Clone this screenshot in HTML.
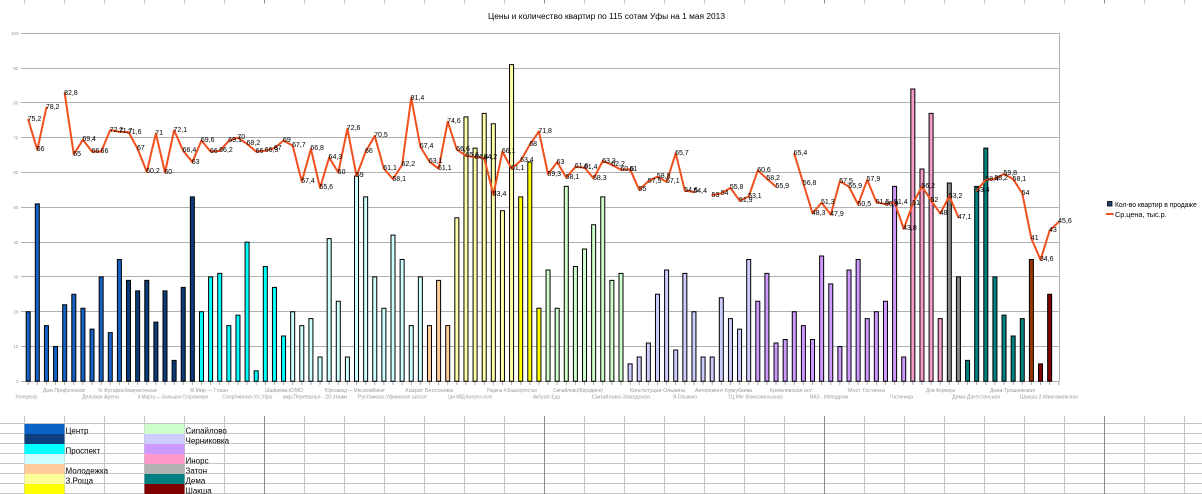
<!DOCTYPE html>
<html><head><meta charset="utf-8">
<style>
html,body{margin:0;padding:0;background:#fff}
body{width:1202px;height:494px;position:relative;overflow:hidden;font-family:"Liberation Sans","Noto Sans CJK SC",sans-serif}
svg{position:absolute;left:0;top:0}
.l{position:absolute;font-family:"Liberation Sans",sans-serif;font-size:7px;line-height:7px;color:#000;white-space:nowrap;left:calc(27.6px + var(--n) * 9.12px);top:calc(377.8px - var(--v) * 3.48px)}
</style></head><body>
<svg width="1202" height="494" viewBox="0 0 1202 494" xmlns="http://www.w3.org/2000/svg" font-family="Liberation Sans, sans-serif">
<defs>
<pattern id="tk" x="27.7" y="0" width="9.12" height="10" patternUnits="userSpaceOnUse"><rect x="0" y="0" width="1" height="10" fill="#a8a8a8"/></pattern>
</defs>
<!-- sheet top ticks -->
<path d="M24.5 0V3.5M64.5 0V3.5M104.5 0V3.5M144.5 0V3.5M184.5 0V3.5M224.5 0V3.5M304.5 0V3.5M344.5 0V3.5M384.5 0V3.5M424.5 0V3.5M464.5 0V3.5M504.5 0V3.5M584.5 0V3.5M624.5 0V3.5M664.5 0V3.5M704.5 0V3.5M744.5 0V3.5M784.5 0V3.5M864.5 0V3.5M904.5 0V3.5M944.5 0V3.5M984.5 0V3.5M1024.5 0V3.5M1064.5 0V3.5M1144.5 0V3.5M1184.5 0V3.5" stroke="#c4c4c4" stroke-width="1"/>
<path d="M264.5 0V3.5M544.5 0V3.5M824.5 0V3.5M1104.5 0V3.5" stroke="#8c8c8c" stroke-width="1"/>
<!-- sheet bottom grid -->
<path d="M0 423.5H1202M0 433.5H1202M0 443.5H1202M0 453.5H1202M0 463.5H1202M0 473.5H1202M0 483.5H1202M0 493.5H1202" stroke="#c4c4c4" stroke-width="1"/>
<path d="M24.5 416V494M64.5 416V494M104.5 416V494M144.5 416V494M184.5 416V494M224.5 416V494M304.5 416V494M344.5 416V494M384.5 416V494M424.5 416V494M464.5 416V494M504.5 416V494M584.5 416V494M624.5 416V494M664.5 416V494M704.5 416V494M744.5 416V494M784.5 416V494M864.5 416V494M904.5 416V494M944.5 416V494M984.5 416V494M1024.5 416V494M1064.5 416V494M1144.5 416V494M1184.5 416V494" stroke="#c4c4c4" stroke-width="1"/>
<path d="M264.5 416V494M544.5 416V494M824.5 416V494M1104.5 416V494" stroke="#8c8c8c" stroke-width="1"/>
<!-- colour legend cells -->
<rect x="24.5" y="424" width="40" height="10" fill="#0a64c8"/>
<rect x="24.5" y="434" width="40" height="10" fill="#0b3f7e"/>
<rect x="24.5" y="444" width="40" height="10" fill="#00ffff"/>
<rect x="24.5" y="454" width="40" height="10" fill="#ccffff"/>
<rect x="24.5" y="464" width="40" height="10" fill="#ffcc99"/>
<rect x="24.5" y="474" width="40" height="10" fill="#ffff99"/>
<rect x="24.5" y="484" width="40" height="10" fill="#ffff00"/>
<rect x="144.5" y="424" width="40" height="10" fill="#ccffcc"/>
<rect x="144.5" y="434" width="40" height="10" fill="#ccccff"/>
<rect x="144.5" y="444" width="40" height="10" fill="#cc99ff"/>
<rect x="144.5" y="454" width="40" height="10" fill="#ff99cc"/>
<rect x="144.5" y="464" width="40" height="10" fill="#b2b2b2"/>
<rect x="144.5" y="474" width="40" height="10" fill="#008080"/>
<rect x="144.5" y="484" width="40" height="10" fill="#800000"/>
<g font-size="8" fill="#000">
<text x="65.5" y="433.3">Центр</text>
<text x="65.5" y="453.3">Проспект</text>
<text x="65.5" y="473.3">Молодежка</text>
<text x="65.5" y="483.3">З.Роща</text>
<text x="185.5" y="433.3">Сипайлово</text>
<text x="185.5" y="443.3">Черниковка</text>
<text x="185.5" y="463.3">Инорс</text>
<text x="185.5" y="473.3">Затон</text>
<text x="185.5" y="483.3">Дема</text>
<text x="185.5" y="493.3">Шакша</text>
</g>
<!-- title -->
<text x="488" y="19" font-size="8" fill="#000" textLength="237" lengthAdjust="spacingAndGlyphs">Цены и количество квартир по 115 сотам Уфы на 1 мая 2013</text>
<!-- gridlines -->
<path d="M21 33.5H1059.5M21 68.5H1059.5M21 102.5H1059.5M21 137.5H1059.5M21 172.5H1059.5M21 207.5H1059.5M21 242.5H1059.5M21 276.5H1059.5M21 311.5H1059.5M21 346.5H1059.5M21 381.5H1059.5M1059.5 33.5V381.5" stroke="#b0b0b0" stroke-width="1" fill="none"/>
<rect x="27" y="382" width="1033" height="3" fill="url(#tk)"/>
<g font-size="4.6" fill="#999" text-anchor="end">
<text x="18.5" y="35">100</text>
<text x="18.5" y="69.8">90</text>
<text x="18.5" y="104.6">80</text>
<text x="18.5" y="139.4">70</text>
<text x="18.5" y="174.2">60</text>
<text x="18.5" y="209">50</text>
<text x="18.5" y="243.8">40</text>
<text x="18.5" y="278.6">30</text>
<text x="18.5" y="313.4">20</text>
<text x="18.5" y="348.2">10</text>
<text x="18.5" y="383">0</text>
</g>
<!-- x labels -->
<g font-size="5.5" fill="#9a9a9a" lengthAdjust="spacingAndGlyphs">
<text x="43" y="392" textLength="42" lengthAdjust="spacingAndGlyphs">Дом Профсоюзов</text>
<text x="98" y="392" textLength="59" lengthAdjust="spacingAndGlyphs">Ул. Мустафина-Коммунистическая</text>
<text x="190" y="392" textLength="38" lengthAdjust="spacingAndGlyphs">Ф.Мир — Глазн</text>
<text x="265" y="392" textLength="38" lengthAdjust="spacingAndGlyphs">Шафиева-КУМО</text>
<text x="325" y="392" textLength="60" lengthAdjust="spacingAndGlyphs">Юрозавод — Мясокомбинат</text>
<text x="405" y="392" textLength="48" lengthAdjust="spacingAndGlyphs">Хазрат Бессонова</text>
<text x="487" y="392" textLength="50" lengthAdjust="spacingAndGlyphs">Родина 4-Башкортостан</text>
<text x="553" y="392" textLength="50" lengthAdjust="spacingAndGlyphs">Сипайлово(Бородино)</text>
<text x="630" y="392" textLength="55" lengthAdjust="spacingAndGlyphs">Конституции-Ольвина</text>
<text x="695" y="392" textLength="57" lengthAdjust="spacingAndGlyphs">Авторемонт-Куркубаева</text>
<text x="770" y="392" textLength="43" lengthAdjust="spacingAndGlyphs">Кремлевская ост.</text>
<text x="848" y="392" textLength="37" lengthAdjust="spacingAndGlyphs">Мост Гостинка</text>
<text x="926" y="392" textLength="29" lengthAdjust="spacingAndGlyphs">Дом Фермера</text>
<text x="990" y="392" textLength="45" lengthAdjust="spacingAndGlyphs">Дема-Трошниковая</text>
<text x="15" y="398.5" textLength="22" lengthAdjust="spacingAndGlyphs">Телецентр</text>
<text x="82" y="398.5" textLength="37" lengthAdjust="spacingAndGlyphs">Деловая Арена</text>
<text x="138" y="398.5" textLength="70" lengthAdjust="spacingAndGlyphs">8 Марта — Большая Сторожевая</text>
<text x="222" y="398.5" textLength="50" lengthAdjust="spacingAndGlyphs">Спортивная-Ул.Уфа</text>
<text x="283" y="398.5" textLength="64" lengthAdjust="spacingAndGlyphs">мкр.Перевалье - 20 этажи</text>
<text x="358" y="398.5" textLength="69" lengthAdjust="spacingAndGlyphs">Рустамова-Уфимское шоссе</text>
<text x="448" y="398.5" textLength="44" lengthAdjust="spacingAndGlyphs">Цен.МВД-Конгресс-холл</text>
<text x="533" y="398.5" textLength="27" lengthAdjust="spacingAndGlyphs">Акбузат-Еда</text>
<text x="592" y="398.5" textLength="58" lengthAdjust="spacingAndGlyphs">Сипайлово-Заводская</text>
<text x="673" y="398.5" textLength="24" lengthAdjust="spacingAndGlyphs">Я-Ольвино</text>
<text x="728" y="398.5" textLength="55" lengthAdjust="spacingAndGlyphs">ТЦ Мег (Комсомольская)</text>
<text x="810" y="398.5" textLength="38" lengthAdjust="spacingAndGlyphs">ВАЗ - Ипподром</text>
<text x="890" y="398.5" textLength="23" lengthAdjust="spacingAndGlyphs">Гостиница</text>
<text x="952" y="398.5" textLength="48" lengthAdjust="spacingAndGlyphs">Дема-Дагестанская</text>
<text x="1020" y="398.5" textLength="58" lengthAdjust="spacingAndGlyphs">Шакша 2-Мингажевская</text>
</g>
<!-- bars & line -->
<g transform="translate(28.2,381.3) scale(9.12,-3.48)">
<g stroke="#000" stroke-width="1">
<g fill="#1462c4">
<rect vector-effect="non-scaling-stroke" x="-0.22" y="0" width="0.44" height="20"/>
<rect vector-effect="non-scaling-stroke" x="0.78" y="0" width="0.44" height="51"/>
<rect vector-effect="non-scaling-stroke" x="1.78" y="0" width="0.44" height="16"/>
<rect vector-effect="non-scaling-stroke" x="2.78" y="0" width="0.44" height="10"/>
<rect vector-effect="non-scaling-stroke" x="3.78" y="0" width="0.44" height="22"/>
<rect vector-effect="non-scaling-stroke" x="4.78" y="0" width="0.44" height="25"/>
<rect vector-effect="non-scaling-stroke" x="5.78" y="0" width="0.44" height="21"/>
<rect vector-effect="non-scaling-stroke" x="6.78" y="0" width="0.44" height="15"/>
<rect vector-effect="non-scaling-stroke" x="7.78" y="0" width="0.44" height="30"/>
<rect vector-effect="non-scaling-stroke" x="8.78" y="0" width="0.44" height="14"/>
<rect vector-effect="non-scaling-stroke" x="9.78" y="0" width="0.44" height="35"/>
</g>
<g fill="#0c3b78">
<rect vector-effect="non-scaling-stroke" x="10.78" y="0" width="0.44" height="29"/>
<rect vector-effect="non-scaling-stroke" x="11.78" y="0" width="0.44" height="26"/>
<rect vector-effect="non-scaling-stroke" x="12.78" y="0" width="0.44" height="29"/>
<rect vector-effect="non-scaling-stroke" x="13.78" y="0" width="0.44" height="17"/>
<rect vector-effect="non-scaling-stroke" x="14.78" y="0" width="0.44" height="26"/>
<rect vector-effect="non-scaling-stroke" x="15.78" y="0" width="0.44" height="6"/>
<rect vector-effect="non-scaling-stroke" x="16.78" y="0" width="0.44" height="27"/>
<rect vector-effect="non-scaling-stroke" x="17.78" y="0" width="0.44" height="53"/>
</g>
<g fill="#00ffff">
<rect vector-effect="non-scaling-stroke" x="18.78" y="0" width="0.44" height="20"/>
<rect vector-effect="non-scaling-stroke" x="19.78" y="0" width="0.44" height="30"/>
<rect vector-effect="non-scaling-stroke" x="20.78" y="0" width="0.44" height="31"/>
<rect vector-effect="non-scaling-stroke" x="21.78" y="0" width="0.44" height="16"/>
<rect vector-effect="non-scaling-stroke" x="22.78" y="0" width="0.44" height="19"/>
<rect vector-effect="non-scaling-stroke" x="23.78" y="0" width="0.44" height="40"/>
<rect vector-effect="non-scaling-stroke" x="24.78" y="0" width="0.44" height="3"/>
<rect vector-effect="non-scaling-stroke" x="25.78" y="0" width="0.44" height="33"/>
<rect vector-effect="non-scaling-stroke" x="26.78" y="0" width="0.44" height="27"/>
<rect vector-effect="non-scaling-stroke" x="27.78" y="0" width="0.44" height="13"/>
</g>
<g fill="#ccffff">
<rect vector-effect="non-scaling-stroke" x="28.78" y="0" width="0.44" height="20"/>
<rect vector-effect="non-scaling-stroke" x="29.78" y="0" width="0.44" height="16"/>
<rect vector-effect="non-scaling-stroke" x="30.78" y="0" width="0.44" height="18"/>
<rect vector-effect="non-scaling-stroke" x="31.78" y="0" width="0.44" height="7"/>
<rect vector-effect="non-scaling-stroke" x="32.78" y="0" width="0.44" height="41"/>
<rect vector-effect="non-scaling-stroke" x="33.78" y="0" width="0.44" height="23"/>
<rect vector-effect="non-scaling-stroke" x="34.78" y="0" width="0.44" height="7"/>
<rect vector-effect="non-scaling-stroke" x="35.78" y="0" width="0.44" height="59"/>
<rect vector-effect="non-scaling-stroke" x="36.78" y="0" width="0.44" height="53"/>
<rect vector-effect="non-scaling-stroke" x="37.78" y="0" width="0.44" height="30"/>
<rect vector-effect="non-scaling-stroke" x="38.78" y="0" width="0.44" height="21"/>
<rect vector-effect="non-scaling-stroke" x="39.78" y="0" width="0.44" height="42"/>
<rect vector-effect="non-scaling-stroke" x="40.78" y="0" width="0.44" height="35"/>
<rect vector-effect="non-scaling-stroke" x="41.78" y="0" width="0.44" height="16"/>
<rect vector-effect="non-scaling-stroke" x="42.78" y="0" width="0.44" height="30"/>
</g>
<g fill="#ffcc99">
<rect vector-effect="non-scaling-stroke" x="43.78" y="0" width="0.44" height="16"/>
<rect vector-effect="non-scaling-stroke" x="44.78" y="0" width="0.44" height="29"/>
<rect vector-effect="non-scaling-stroke" x="45.78" y="0" width="0.44" height="16"/>
</g>
<g fill="#ffffa8">
<rect vector-effect="non-scaling-stroke" x="46.78" y="0" width="0.44" height="47"/>
<rect vector-effect="non-scaling-stroke" x="47.78" y="0" width="0.44" height="76"/>
<rect vector-effect="non-scaling-stroke" x="48.78" y="0" width="0.44" height="67"/>
<rect vector-effect="non-scaling-stroke" x="49.78" y="0" width="0.44" height="77"/>
<rect vector-effect="non-scaling-stroke" x="50.78" y="0" width="0.44" height="74"/>
<rect vector-effect="non-scaling-stroke" x="51.78" y="0" width="0.44" height="49"/>
<rect vector-effect="non-scaling-stroke" x="52.78" y="0" width="0.44" height="91"/>
</g>
<g fill="#ffff00">
<rect vector-effect="non-scaling-stroke" x="53.78" y="0" width="0.44" height="53"/>
<rect vector-effect="non-scaling-stroke" x="54.78" y="0" width="0.44" height="63"/>
<rect vector-effect="non-scaling-stroke" x="55.78" y="0" width="0.44" height="21"/>
</g>
<g fill="#ccffcc">
<rect vector-effect="non-scaling-stroke" x="56.78" y="0" width="0.44" height="32"/>
<rect vector-effect="non-scaling-stroke" x="57.78" y="0" width="0.44" height="21"/>
<rect vector-effect="non-scaling-stroke" x="58.78" y="0" width="0.44" height="56"/>
<rect vector-effect="non-scaling-stroke" x="59.78" y="0" width="0.44" height="33"/>
<rect vector-effect="non-scaling-stroke" x="60.78" y="0" width="0.44" height="38"/>
<rect vector-effect="non-scaling-stroke" x="61.78" y="0" width="0.44" height="45"/>
<rect vector-effect="non-scaling-stroke" x="62.78" y="0" width="0.44" height="53"/>
<rect vector-effect="non-scaling-stroke" x="63.78" y="0" width="0.44" height="29"/>
<rect vector-effect="non-scaling-stroke" x="64.78" y="0" width="0.44" height="31"/>
</g>
<g fill="#ccccff">
<rect vector-effect="non-scaling-stroke" x="65.78" y="0" width="0.44" height="5"/>
<rect vector-effect="non-scaling-stroke" x="66.78" y="0" width="0.44" height="7"/>
<rect vector-effect="non-scaling-stroke" x="67.78" y="0" width="0.44" height="11"/>
<rect vector-effect="non-scaling-stroke" x="68.78" y="0" width="0.44" height="25"/>
<rect vector-effect="non-scaling-stroke" x="69.78" y="0" width="0.44" height="32"/>
<rect vector-effect="non-scaling-stroke" x="70.78" y="0" width="0.44" height="9"/>
<rect vector-effect="non-scaling-stroke" x="71.78" y="0" width="0.44" height="31"/>
<rect vector-effect="non-scaling-stroke" x="72.78" y="0" width="0.44" height="20"/>
<rect vector-effect="non-scaling-stroke" x="73.78" y="0" width="0.44" height="7"/>
<rect vector-effect="non-scaling-stroke" x="74.78" y="0" width="0.44" height="7"/>
<rect vector-effect="non-scaling-stroke" x="75.78" y="0" width="0.44" height="24"/>
<rect vector-effect="non-scaling-stroke" x="76.78" y="0" width="0.44" height="18"/>
<rect vector-effect="non-scaling-stroke" x="77.78" y="0" width="0.44" height="15"/>
<rect vector-effect="non-scaling-stroke" x="78.78" y="0" width="0.44" height="35"/>
</g>
<g fill="#cc99ff">
<rect vector-effect="non-scaling-stroke" x="79.78" y="0" width="0.44" height="23"/>
<rect vector-effect="non-scaling-stroke" x="80.78" y="0" width="0.44" height="31"/>
<rect vector-effect="non-scaling-stroke" x="81.78" y="0" width="0.44" height="11"/>
<rect vector-effect="non-scaling-stroke" x="82.78" y="0" width="0.44" height="12"/>
<rect vector-effect="non-scaling-stroke" x="83.78" y="0" width="0.44" height="20"/>
<rect vector-effect="non-scaling-stroke" x="84.78" y="0" width="0.44" height="16"/>
<rect vector-effect="non-scaling-stroke" x="85.78" y="0" width="0.44" height="12"/>
<rect vector-effect="non-scaling-stroke" x="86.78" y="0" width="0.44" height="36"/>
<rect vector-effect="non-scaling-stroke" x="87.78" y="0" width="0.44" height="28"/>
<rect vector-effect="non-scaling-stroke" x="88.78" y="0" width="0.44" height="10"/>
<rect vector-effect="non-scaling-stroke" x="89.78" y="0" width="0.44" height="32"/>
<rect vector-effect="non-scaling-stroke" x="90.78" y="0" width="0.44" height="35"/>
<rect vector-effect="non-scaling-stroke" x="91.78" y="0" width="0.44" height="18"/>
<rect vector-effect="non-scaling-stroke" x="92.78" y="0" width="0.44" height="20"/>
<rect vector-effect="non-scaling-stroke" x="93.78" y="0" width="0.44" height="23"/>
<rect vector-effect="non-scaling-stroke" x="94.78" y="0" width="0.44" height="56"/>
<rect vector-effect="non-scaling-stroke" x="95.78" y="0" width="0.44" height="7"/>
</g>
<g fill="#f59cc8">
<rect vector-effect="non-scaling-stroke" x="96.78" y="0" width="0.44" height="84"/>
<rect vector-effect="non-scaling-stroke" x="97.78" y="0" width="0.44" height="61"/>
<rect vector-effect="non-scaling-stroke" x="98.78" y="0" width="0.44" height="77"/>
<rect vector-effect="non-scaling-stroke" x="99.78" y="0" width="0.44" height="18"/>
</g>
<g fill="#858585">
<rect vector-effect="non-scaling-stroke" x="100.78" y="0" width="0.44" height="57"/>
<rect vector-effect="non-scaling-stroke" x="101.78" y="0" width="0.44" height="30"/>
</g>
<g fill="#008080">
<rect vector-effect="non-scaling-stroke" x="102.78" y="0" width="0.44" height="6"/>
<rect vector-effect="non-scaling-stroke" x="103.78" y="0" width="0.44" height="56"/>
<rect vector-effect="non-scaling-stroke" x="104.78" y="0" width="0.44" height="67"/>
<rect vector-effect="non-scaling-stroke" x="105.78" y="0" width="0.44" height="30"/>
<rect vector-effect="non-scaling-stroke" x="106.78" y="0" width="0.44" height="19"/>
<rect vector-effect="non-scaling-stroke" x="107.78" y="0" width="0.44" height="13"/>
<rect vector-effect="non-scaling-stroke" x="108.78" y="0" width="0.44" height="18"/>
</g>
<rect vector-effect="non-scaling-stroke" fill="#993300" x="109.78" y="0" width="0.44" height="35"/>
<g fill="#800000">
<rect vector-effect="non-scaling-stroke" x="110.78" y="0" width="0.44" height="5"/>
<rect vector-effect="non-scaling-stroke" x="111.78" y="0" width="0.44" height="25"/>
</g>
</g>
<g fill="none" stroke="#f0501e" stroke-width="2" stroke-linejoin="round" stroke-linecap="round">
<polyline vector-effect="non-scaling-stroke" points="0,75.2 1,66.5 2,78.7"/>
<polyline vector-effect="non-scaling-stroke" points="4,82.8 5,65.2 6,69.4 7,66 8,66 9,72.2 10,71.7 11,71.6 12,66.8 13,60.2 14,71.2 15,60 16,72.1 17,66.2 18,63 19,69.2 20,66 21,66.2 22,69.1 23,70 24,68.2 25,66 26,66.3 27,67 28,69.2 29,67.7 30,57.4 31,66.8 32,55.6 33,64.3 34,60 35,72.6 36,59 37,66 38,70.5 39,61.1 40,58.1 41,62.2 42,81.4 43,67.4 44,63.1 45,61.1 46,74.6 47,66.6 48,64.8 49,64.4 50,64.2 51,53.6 52,66 53,61.1 54,63.4 55,68 56,71.8 57,59.5 58,63 59,58.5 60,61.6 61,61.4 62,58.3 63,63.3 64,62.2 65,60.8 66,60.9 67,55 68,57.5 69,58.8 70,57.3 71,65.5 72,54.8 73,54.4"/>
<polyline vector-effect="non-scaling-stroke" points="75,53.5 76,54 77,55.6 78,51.9 79,53.1 80,60.6 81,58.2 82,55.9"/>
<polyline vector-effect="non-scaling-stroke" points="84,65.4 85,56.8 86,48.3 87,51.3 88,47.9 89,57.5 90,55.9 91,50.8 92,57.9 93,51.5 94,50.9 95,51.4 96,43.8 97,51 98,56 99,52 100,48.2 101,53.2 102,47.1"/>
<polyline vector-effect="non-scaling-stroke" points="104,54.8 105,57.9 106,58.2 107,59.6 108,58.1 109,54 110,41 111,34.9 112,43.3 113,45.8"/>
</g>
</g>
<!-- legend -->
<rect x="1107.5" y="201.5" width="4.5" height="4.5" fill="#1b3f73" stroke="#000" stroke-width="0.8"/>
<text x="1115" y="207" font-size="7" fill="#000" textLength="81.7" lengthAdjust="spacingAndGlyphs">Кол-во квартир в продаже</text>
<line x1="1106" y1="214" x2="1113.5" y2="214" stroke="#f0501e" stroke-width="2"/>
<text x="1115" y="217" font-size="7" fill="#000" textLength="51.7" lengthAdjust="spacingAndGlyphs">Ср.цена, тыс.р.</text>
</svg>
<span class="l" style="--n:0;--v:75.2">75,2</span>
<span class="l" style="--n:1;--v:66.5">66</span>
<span class="l" style="--n:2;--v:78.7">78,2</span>
<span class="l" style="--n:4;--v:82.8">82,8</span>
<span class="l" style="--n:5;--v:65.2">65</span>
<span class="l" style="--n:6;--v:69.4">69,4</span>
<span class="l" style="--n:7;--v:66">66</span>
<span class="l" style="--n:8;--v:66">66</span>
<span class="l" style="--n:9;--v:72.2">72,2</span>
<span class="l" style="--n:10;--v:71.7">71,7</span>
<span class="l" style="--n:11;--v:71.6">71,6</span>
<span class="l" style="--n:12;--v:66.8">67</span>
<span class="l" style="--n:13;--v:60.2">60,2</span>
<span class="l" style="--n:14;--v:71.2">71</span>
<span class="l" style="--n:15;--v:60">60</span>
<span class="l" style="--n:16;--v:72.1">72,1</span>
<span class="l" style="--n:17;--v:66.2">66,4</span>
<span class="l" style="--n:18;--v:63">63</span>
<span class="l" style="--n:19;--v:69.2">69,6</span>
<span class="l" style="--n:20;--v:66">66</span>
<span class="l" style="--n:21;--v:66.2">66,2</span>
<span class="l" style="--n:22;--v:69.1">69,1</span>
<span class="l" style="--n:23;--v:70">70</span>
<span class="l" style="--n:24;--v:68.2">68,2</span>
<span class="l" style="--n:25;--v:66">66</span>
<span class="l" style="--n:26;--v:66.3">66,3</span>
<span class="l" style="--n:27;--v:67">67</span>
<span class="l" style="--n:28;--v:69.2">69</span>
<span class="l" style="--n:29;--v:67.7">67,7</span>
<span class="l" style="--n:30;--v:57.4">57,4</span>
<span class="l" style="--n:31;--v:66.8">66,8</span>
<span class="l" style="--n:32;--v:55.6">55,6</span>
<span class="l" style="--n:33;--v:64.3">64,3</span>
<span class="l" style="--n:34;--v:60">60</span>
<span class="l" style="--n:35;--v:72.6">72,6</span>
<span class="l" style="--n:36;--v:59">59</span>
<span class="l" style="--n:37;--v:66">66</span>
<span class="l" style="--n:38;--v:70.5">70,5</span>
<span class="l" style="--n:39;--v:61.1">61,1</span>
<span class="l" style="--n:40;--v:58.1">58,1</span>
<span class="l" style="--n:41;--v:62.2">62,2</span>
<span class="l" style="--n:42;--v:81.4">81,4</span>
<span class="l" style="--n:43;--v:67.4">67,4</span>
<span class="l" style="--n:44;--v:63.1">63,1</span>
<span class="l" style="--n:45;--v:61.1">61,1</span>
<span class="l" style="--n:46;--v:74.6">74,6</span>
<span class="l" style="--n:47;--v:66.6">66,6</span>
<span class="l" style="--n:48;--v:64.8">65,6</span>
<span class="l" style="--n:49;--v:64.4">64,4</span>
<span class="l" style="--n:50;--v:64.2">64,2</span>
<span class="l" style="--n:51;--v:53.6">53,4</span>
<span class="l" style="--n:52;--v:66">66,1</span>
<span class="l" style="--n:53;--v:61.1">61,1</span>
<span class="l" style="--n:54;--v:63.4">63,4</span>
<span class="l" style="--n:55;--v:68">68</span>
<span class="l" style="--n:56;--v:71.8">71,8</span>
<span class="l" style="--n:57;--v:59.5">59,3</span>
<span class="l" style="--n:58;--v:63">63</span>
<span class="l" style="--n:59;--v:58.5">58,1</span>
<span class="l" style="--n:60;--v:61.6">61,6</span>
<span class="l" style="--n:61;--v:61.4">61,4</span>
<span class="l" style="--n:62;--v:58.3">58,3</span>
<span class="l" style="--n:63;--v:63.3">63,3</span>
<span class="l" style="--n:64;--v:62.2">62,2</span>
<span class="l" style="--n:65;--v:60.8">60,6</span>
<span class="l" style="--n:66;--v:60.9">61</span>
<span class="l" style="--n:67;--v:55">55</span>
<span class="l" style="--n:68;--v:57.5">57,5</span>
<span class="l" style="--n:69;--v:58.8">58,8</span>
<span class="l" style="--n:70;--v:57.3">57,1</span>
<span class="l" style="--n:71;--v:65.5">65,7</span>
<span class="l" style="--n:72;--v:54.8">54,6</span>
<span class="l" style="--n:73;--v:54.4">54,4</span>
<span class="l" style="--n:75;--v:53.5">53</span>
<span class="l" style="--n:76;--v:54">54</span>
<span class="l" style="--n:77;--v:55.6">55,8</span>
<span class="l" style="--n:78;--v:51.9">51,9</span>
<span class="l" style="--n:79;--v:53.1">53,1</span>
<span class="l" style="--n:80;--v:60.6">60,6</span>
<span class="l" style="--n:81;--v:58.2">58,2</span>
<span class="l" style="--n:82;--v:55.9">55,9</span>
<span class="l" style="--n:84;--v:65.4">65,4</span>
<span class="l" style="--n:85;--v:56.8">56,8</span>
<span class="l" style="--n:86;--v:48.3">48,3</span>
<span class="l" style="--n:87;--v:51.3">51,3</span>
<span class="l" style="--n:88;--v:47.9">47,9</span>
<span class="l" style="--n:89;--v:57.5">57,5</span>
<span class="l" style="--n:90;--v:55.9">55,9</span>
<span class="l" style="--n:91;--v:50.8">50,5</span>
<span class="l" style="--n:92;--v:57.9">57,9</span>
<span class="l" style="--n:93;--v:51.5">51,5</span>
<span class="l" style="--n:94;--v:50.9">50,9</span>
<span class="l" style="--n:95;--v:51.4">51,4</span>
<span class="l" style="--n:96;--v:43.8">43,8</span>
<span class="l" style="--n:97;--v:51">51</span>
<span class="l" style="--n:98;--v:56">56,2</span>
<span class="l" style="--n:99;--v:52">52</span>
<span class="l" style="--n:100;--v:48.2">48</span>
<span class="l" style="--n:101;--v:53.2">53,2</span>
<span class="l" style="--n:102;--v:47.1">47,1</span>
<span class="l" style="--n:104;--v:54.8">53,4</span>
<span class="l" style="--n:105;--v:57.9">58,4</span>
<span class="l" style="--n:106;--v:58.2">58,2</span>
<span class="l" style="--n:107;--v:59.6">59,8</span>
<span class="l" style="--n:108;--v:58.1">58,1</span>
<span class="l" style="--n:109;--v:54">54</span>
<span class="l" style="--n:110;--v:41">41</span>
<span class="l" style="--n:111;--v:34.9">34,6</span>
<span class="l" style="--n:112;--v:43.3">43</span>
<span class="l" style="--n:113;--v:45.8">45,6</span>
</body></html>
